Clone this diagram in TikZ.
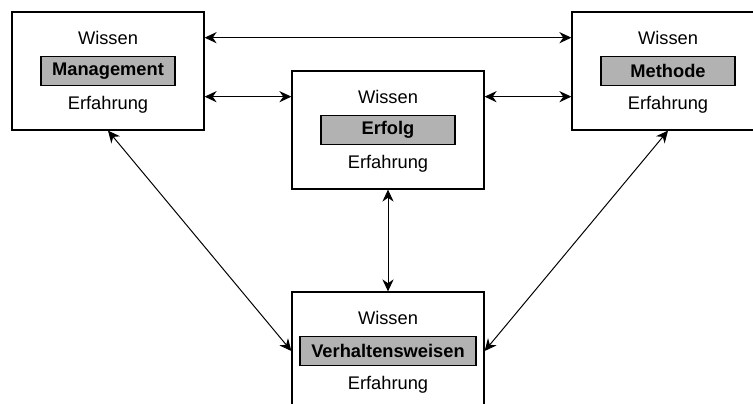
\documentclass[tikz,border=0pt]{standalone}
\usepackage{fontspec}
\setmainfont{Liberation Sans}
\usepackage{tikz}
\usetikzlibrary{arrows.meta,positioning,calc}
\newcommand{\schrift}{\fontsize{13}{15}\selectfont}
\tikzstyle{feld}=[draw, line width=0.9pt, minimum width=4.8cm, minimum height=2.95cm, inner sep=0pt]
\tikzstyle{kern}=[draw, line width=0.9pt, fill=black!30, minimum width=3.35cm, minimum height=0.725cm, inner xsep=0.28cm, font=\schrift\bfseries]
\tikzstyle{wort}=[inner sep=0pt]
\tikzstyle{link}=[{Stealth[length=3mm,width=2.8mm]}-{Stealth[length=3mm,width=2.8mm]}, line width=0.7pt]

\begin{document}
\begin{tikzpicture}[font=\schrift]

\clip (0,0) rectangle (18.825,-10.075);

% Felder
\node[feld] (mgmt) at (2.7,-1.775) {};
\node[feld] (methode) at (16.7,-1.775) {};
\node[feld] (erfolg) at (9.7,-3.25) {};
\node[feld] (verhalten) at (9.7,-8.775) {};

% Inhalte
\foreach \n/\t in {mgmt/Management, methode/Methode, erfolg/Erfolg, verhalten/Verhaltensweisen}
{
    \node[kern] (\n-k) at (\n) {\t};
    \node[wort, above=0.28cm of \n-k] (\n-w) {Wissen};
    \node[wort, below=0.24cm of \n-k] (\n-e) {Erfahrung};
}

% Pfeile
\draw[link] (mgmt.east |- mgmt-w) -- (methode.west |- mgmt-w);
\draw[link] (mgmt.east |- erfolg-w) -- (erfolg.west |- erfolg-w);
\draw[link] (erfolg.east |- erfolg-w) -- (methode.west |- erfolg-w);
\draw[link] (erfolg.south) -- (verhalten.north);
\draw[link] (mgmt.south) -- (verhalten.west);
\draw[link] (methode.south) -- (verhalten.east);

\end{tikzpicture}
\end{document}
